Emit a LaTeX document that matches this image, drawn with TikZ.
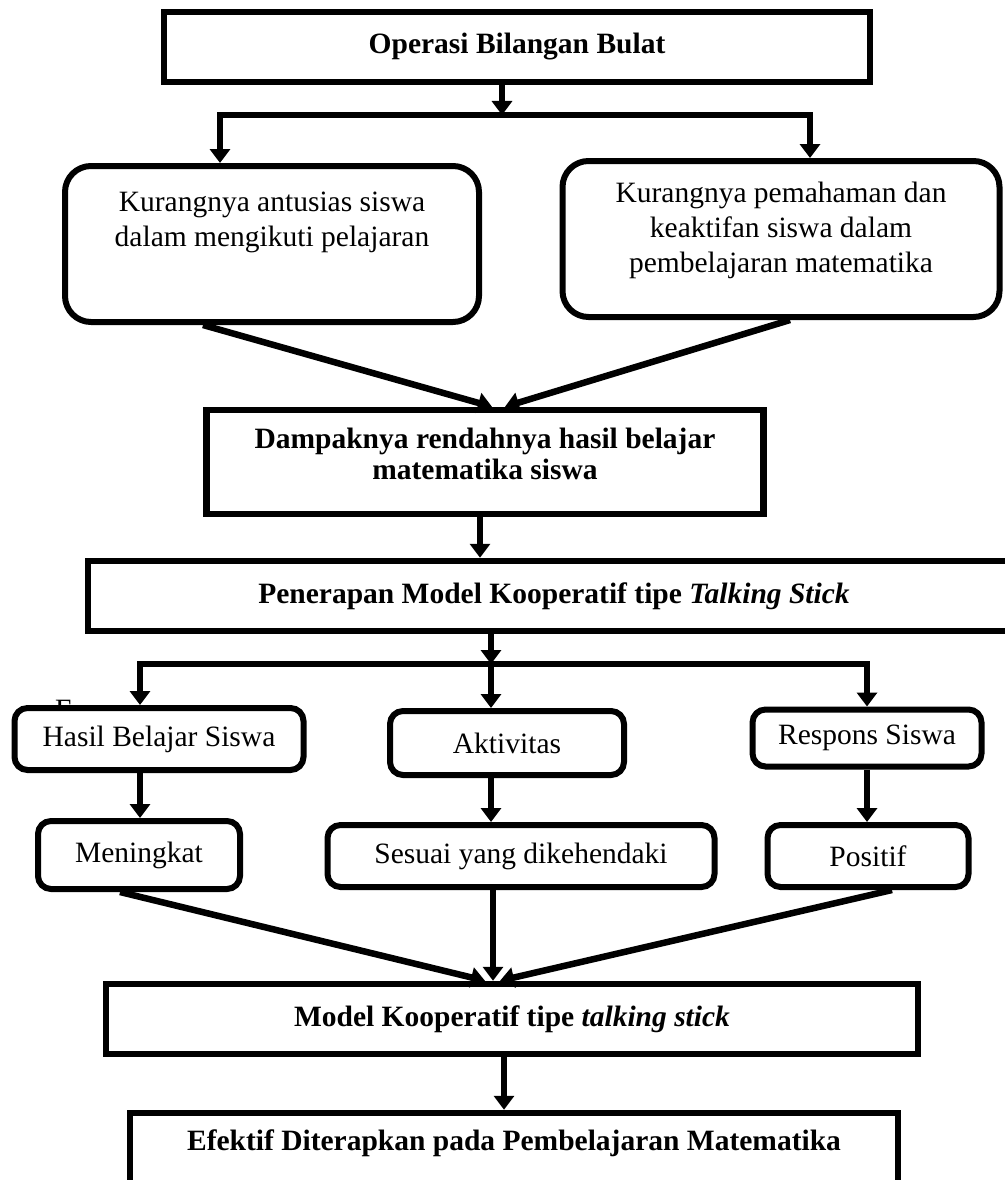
\documentclass[tikz,border=0pt]{standalone}
\usepackage{fontspec}
\setmainfont{Liberation Serif}
\usetikzlibrary{arrows.meta,positioning,calc}

\begin{document}
\begin{tikzpicture}[
  x=1pt, y=-1pt,
  every node/.style = {font=\fontsize{29.5}{35}\selectfont},
  sqbox/.style   = {rectangle, draw, line width=6.5pt, fill=white, align=center,
                    inner sep=0pt, font=\fontsize{29.5}{31}\selectfont\bfseries},
  rbox/.style    = {rectangle, rounded corners=13pt, draw, line width=6pt,
                    fill=white, align=center, inner sep=0pt},
  bigrbox/.style = {rbox, rounded corners=26pt},
  txt/.style     = {align=center, inner sep=0pt},
  btxt/.style    = {txt, font=\fontsize{29.5}{31}\selectfont\bfseries},
  arr/.style     = {-{Triangle[length=14pt,width=20pt]}, line width=6.5pt},
]
\useasboundingbox (0,0) rectangle (1004,1180);

% ── Top: problem and its causes ─────────────────────────────
\node[sqbox, minimum width=706pt, minimum height=70pt] (opb) at (517,47) {Operasi Bilangan Bulat};
\node[bigrbox, minimum width=414pt, minimum height=156pt,
      label={[txt, yshift=22pt]center:{Kurangnya antusias siswa\\dalam mengikuti pelajaran}}]
      (kurang1) at (272,244) {};
\node[bigrbox, minimum width=437pt, minimum height=156pt,
      label={[txt, yshift=9pt]center:{Kurangnya pemahaman dan\\keaktifan siswa dalam\\pembelajaran matematika}}]
      (kurang2) at (781,239) {};
\node[sqbox, minimum width=557pt, minimum height=104pt,
      label={[btxt, yshift=8pt]center:{Dampaknya rendahnya hasil belajar\\matematika siswa}}]
      (dampak) at (485,462) {};
\node[sqbox, minimum width=932pt, minimum height=70pt] (terap) at (554,596)
      {Penerapan Model Kooperatif tipe \textit{Talking Stick}};

% ── Middle: three outcomes ──────────────────────────────────
\node[anchor=north west, inner sep=0pt] (stray) at (55,700) {E};
\node[rbox, minimum width=289pt, minimum height=62pt] (hasil)   at (159,739) {Hasil Belajar Siswa};
\node[rbox, minimum width=234pt, minimum height=64pt] (aktiv)   at (507,743) {Aktivitas};
\node[rbox, minimum width=229pt, minimum height=57pt] (respon)  at (867,738) {Respons Siswa};
\node[rbox, minimum width=202pt, minimum height=68pt] (naik)    at (139,855) {Meningkat};
\node[rbox, minimum width=387pt, minimum height=62pt] (sesuai)  at (521,856) {Sesuai yang dikehendaki};
\node[rbox, minimum width=201pt, minimum height=62pt] (positif) at (868,856) {Positif};

% ── Bottom: conclusion ──────────────────────────────────────
\node[sqbox, minimum width=812pt, minimum height=70pt] (model) at (512,1019)
      {Model Kooperatif tipe \textit{talking stick}};
\node[sqbox, minimum width=768pt, minimum height=90pt,
      label={[btxt, yshift=15pt]center:{Efektif Diterapkan pada Pembelajaran Matematika}}]
      (efektif) at (514,1158) {};

% ── Split after the top box ─────────────────────────────────
\coordinate (s1)  at (502,115);
\coordinate (s1l) at (220,115);
\coordinate (s1r) at (810,115);
\draw[arr] (s1 |- opb.south) -- (s1);
\draw[arr] (s1) -- (s1l) -- (s1l |- kurang1.north);
\draw[arr] (s1) -- (s1r) -- (s1r |- kurang2.north);

% ── Causes into impact ──────────────────────────────────────
\draw[arr] ([xshift=-69pt]kurang1.south) -- ([xshift=7pt]dampak.north);
\draw[arr] ([xshift=9pt]kurang2.south) -- ([xshift=20pt]dampak.north);
\coordinate (d1) at ([xshift=-5pt]dampak.south);
\draw[arr] (d1) -- (d1 |- terap.north);

% ── Split into three outcomes ───────────────────────────────
\coordinate (s2)  at (491,664);
\coordinate (s2l) at (140,664);
\coordinate (s2r) at (867,664);
\draw[arr] (s2 |- terap.south) -- (s2);
\draw[arr] (s2) -- (s2l) -- (s2l |- hasil.north);
\draw[arr] (s2) -- (s2 |- aktiv.north);
\draw[arr] (s2) -- (s2r) -- (s2r |- respon.north);
\draw[arr] (s2l |- hasil.south) -- (s2l |- naik.north);
\draw[arr] (s2 |- aktiv.south) -- (s2 |- sesuai.north);
\draw[arr] (s2r |- respon.south) -- (s2r |- positif.north);

% ── Merge into the model ────────────────────────────────────
\draw[arr] ([xshift=-19pt]naik.south) -- ([xshift=-27pt]model.north);
\draw[arr] ([xshift=-28pt]sesuai.south) -- ([xshift=-19pt]model.north);
\draw[arr] ([xshift=24pt]positif.south) -- ([xshift=-12pt]model.north);
\coordinate (m1) at ([xshift=-8pt]model.south);
\draw[arr] (m1) -- (m1 |- efektif.north);

\end{tikzpicture}
\end{document}
